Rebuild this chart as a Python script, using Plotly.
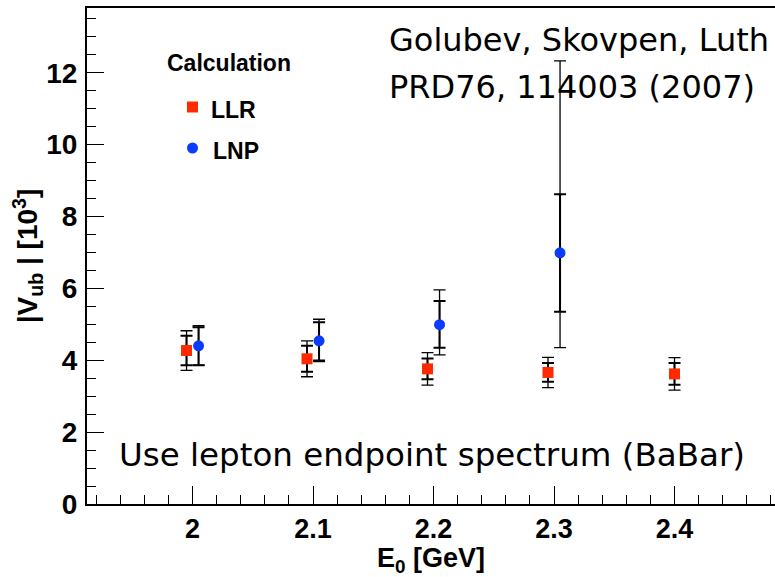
import plotly.graph_objects as go

# Vub extracted from the lepton endpoint spectrum vs. the endpoint cut E0
e0_llr = [1.995, 2.095, 2.195, 2.295, 2.400]
vub_llr = [4.27, 4.04, 3.76, 3.66, 3.62]
llr_err_in = [0.41, 0.36, 0.29, 0.26, 0.30]
llr_err_out = [0.55, 0.50, 0.45, 0.42, 0.45]

e0_lnp = [2.005, 2.105, 2.205, 2.305]
vub_lnp = [4.40, 4.54, 4.99, 6.99]
lnp_in_plus = [0.52, 0.52, 0.66, 1.63]
lnp_in_minus = [0.54, 0.55, 0.64, 1.64]
lnp_out_plus = [0.56, 0.60, 0.97, 5.34]
lnp_out_minus = [0.54, 0.58, 0.84, 2.64]

x_ticks = [2.0, 2.1, 2.2, 2.3, 2.4]
x_labels = ["2", "2.1", "2.2", "2.3", "2.4"]
y_ticks = [0, 2, 4, 6, 8, 10, 12]
y_labels = ["0", "2", "4", "6", "8", "10", "12"]

RED = "#ff2a00"
BLUE = "#0a3cff"

W, H = 775, 577
ML, MR, MT, MB = 87, 0, 8, 73
PW, PH = W - ML - MR, H - MT - MB


def px(x):
    return (x - ML) / PW


def py(y):
    return (H - MB - y) / PH


fig = go.Figure()

# outer (total) uncertainties, thin
fig.add_trace(go.Scatter(
    x=e0_llr, y=vub_llr, mode="markers",
    marker=dict(size=1, color="rgba(0,0,0,0)"),
    error_y=dict(type="data", array=llr_err_out, color="black", thickness=1.3, width=6),
    showlegend=False, hoverinfo="skip"))
fig.add_trace(go.Scatter(
    x=e0_lnp, y=vub_lnp, mode="markers",
    marker=dict(size=1, color="rgba(0,0,0,0)"),
    error_y=dict(type="data", symmetric=False, array=lnp_out_plus, arrayminus=lnp_out_minus,
                 color="black", thickness=1.3, width=6),
    showlegend=False, hoverinfo="skip"))

# inner uncertainties with markers
fig.add_trace(go.Scatter(
    x=e0_llr, y=vub_llr, mode="markers", name="LLR",
    marker=dict(symbol="square", size=11, color=RED),
    error_y=dict(type="data", array=llr_err_in, color="black", thickness=2, width=6),
    showlegend=False))
fig.add_trace(go.Scatter(
    x=e0_lnp, y=vub_lnp, mode="markers", name="LNP",
    marker=dict(symbol="circle", size=11, color=BLUE),
    error_y=dict(type="data", symmetric=False, array=lnp_in_plus, arrayminus=lnp_in_minus,
                 color="black", thickness=2, width=6),
    showlegend=False))

bold = dict(family="Liberation Sans, Arial, Helvetica, sans-serif", color="black")
comic = dict(family="Comic Sans MS, DejaVu Sans, sans-serif", color="black", size=32)

annotations = [
    dict(text="<b>Calculation</b>", x=px(165), y=py(63), xref="paper", yref="paper",
         xanchor="left", yanchor="middle", showarrow=False, font=dict(size=23, **bold)),
    dict(text="<b>LLR</b>", x=px(209), y=py(110), xref="paper", yref="paper",
         xanchor="left", yanchor="middle", showarrow=False, font=dict(size=23, **bold)),
    dict(text="<b>LNP</b>", x=px(211), y=py(151), xref="paper", yref="paper",
         xanchor="left", yanchor="middle", showarrow=False, font=dict(size=23, **bold)),
    dict(text="Golubev, Skovpen, Luth", x=px(387), y=py(40), xref="paper", yref="paper",
         xanchor="left", yanchor="middle", showarrow=False, font=comic),
    dict(text="PRD76, 114003 (2007)", x=px(387), y=py(87), xref="paper", yref="paper",
         xanchor="left", yanchor="middle", showarrow=False, font=comic),
    dict(text="Use lepton endpoint spectrum (BaBar)", x=px(117), y=py(455), xref="paper",
         yref="paper", xanchor="left", yanchor="middle", showarrow=False,
         font=dict(family=comic["family"], color="black", size=32.5)),
]

shapes = [
    dict(type="rect", xref="paper", yref="paper", xsizemode="pixel", ysizemode="pixel",
         xanchor=px(192.5), yanchor=py(107), x0=-5.5, x1=5.5, y0=-5.5, y1=5.5,
         fillcolor=RED, line=dict(width=0)),
    dict(type="circle", xref="paper", yref="paper", xsizemode="pixel", ysizemode="pixel",
         xanchor=px(192.5), yanchor=py(148), x0=-5.5, x1=5.5, y0=-5.5, y1=5.5,
         fillcolor=BLUE, line=dict(width=0)),
]

fig.update_layout(
    width=W, height=H,
    margin=dict(l=ML, r=MR, t=MT, b=MB, pad=0),
    paper_bgcolor="white", plot_bgcolor="white",
    showlegend=False,
    annotations=annotations, shapes=shapes,
    font=dict(size=26, **bold),
)

fig.update_xaxes(
    range=[1.9124, 2.4834], showgrid=False, zeroline=False,
    showline=True, linecolor="black", linewidth=2, mirror=True,
    ticks="inside", tickvals=x_ticks, ticktext=["<b>%s</b>" % t for t in x_labels],
    ticklen=18, tickwidth=1.3, tickcolor="black",
    minor=dict(ticks="inside", dtick=0.02, tick0=2.0, ticklen=9, tickwidth=1.2, tickcolor="black"),
    tickfont=dict(size=27, **bold), ticklabelstandoff=0,
    title=dict(text="<b>E<sub>0</sub> [GeV]</b>", font=dict(size=27, **bold), standoff=5),
    automargin=False,
)
fig.update_yaxes(
    range=[0, 13.8], showgrid=False, zeroline=False,
    showline=True, linecolor="black", linewidth=2,
    ticks="inside", tickvals=y_ticks, ticktext=["<b>%s</b>" % t for t in y_labels],
    ticklen=17, tickwidth=1.3, tickcolor="black",
    minor=dict(ticks="inside", dtick=0.5, tick0=0, ticklen=9, tickwidth=1.2, tickcolor="black"),
    tickfont=dict(size=28, **bold), ticklabelstandoff=2,
    title=dict(text="<b>|V<sub>ub</sub> | [10<sup>3</sup>]</b>", font=dict(size=28, **bold), standoff=0),
    automargin=False,
)

fig.write_html("out.html")
